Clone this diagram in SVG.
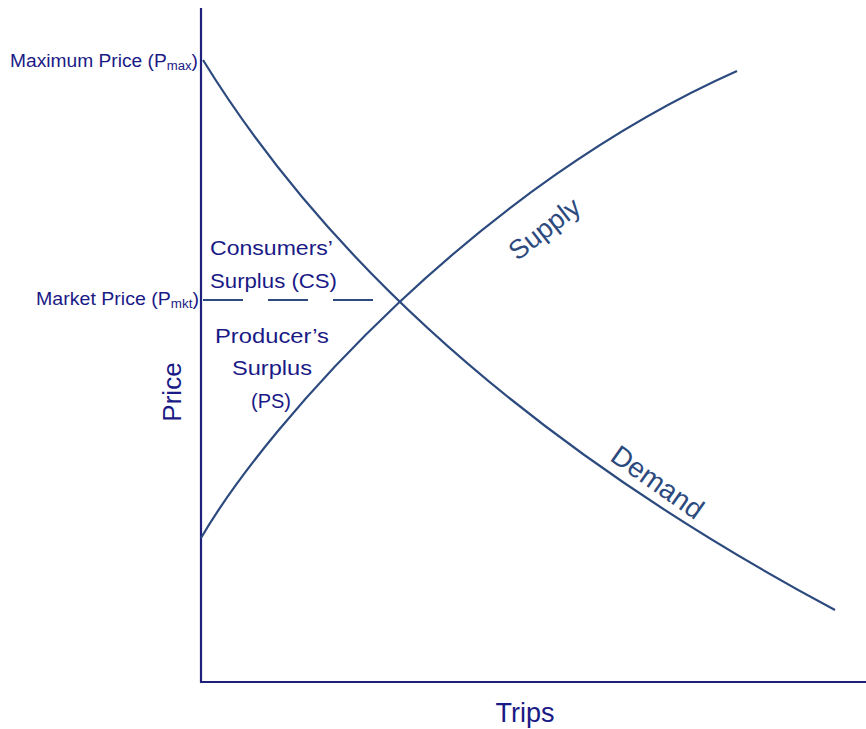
<svg xmlns="http://www.w3.org/2000/svg" width="866" height="729" viewBox="0 0 866 729">
<style>
.t{font-family:"Liberation Sans",Arial,sans-serif;fill:#1a1a86}
.c{font-family:"Liberation Sans",Arial,sans-serif;fill:#2c4a7e}
.curve{fill:none;stroke:#2c4a7e;stroke-width:2.2}
.axis{fill:none;stroke:#1f1f7c;stroke-width:2.2}
</style>
<rect width="866" height="729" fill="#fff"/>
<g id="connectors">
<path class="axis" d="M201 8 V682 H866"/>
<path id="demand" class="curve" d="M203 60 Q398.5 376.7 835 610"/>
<path id="supply" class="curve" d="M201 538 C270 420 480 185 737 71"/>
<path id="market-line" class="curve" d="M203 300 H373" stroke-dasharray="40 25"/>
</g>
<g id="label-max"><text class="t" x="10" y="67" font-size="17.5" textLength="188" lengthAdjust="spacingAndGlyphs">Maximum Price (P<tspan font-size="12" dy="3">max</tspan><tspan dy="-3">)</tspan></text></g>
<g id="label-mkt"><text class="t" x="36" y="305" font-size="17.5" textLength="163" lengthAdjust="spacingAndGlyphs">Market Price (P<tspan font-size="12" dy="3">mkt</tspan><tspan dy="-3">)</tspan></text></g>
<g id="cs"><text class="t" font-size="21"><tspan x="210" y="255" textLength="123" lengthAdjust="spacingAndGlyphs">Consumers’</tspan><tspan x="210" y="288" textLength="127" lengthAdjust="spacingAndGlyphs">Surplus (CS)</tspan></text></g>
<g id="ps"><text class="t" font-size="21"><tspan x="215" y="343" textLength="114" lengthAdjust="spacingAndGlyphs">Producer’s</tspan><tspan x="232" y="375" textLength="80" lengthAdjust="spacingAndGlyphs">Surplus</tspan><tspan x="251" y="408" textLength="40" lengthAdjust="spacingAndGlyphs">(PS)</tspan></text></g>
<g id="price"><text class="t" font-size="26" text-anchor="middle" transform="translate(181 392) rotate(-90)">Price</text></g>
<g id="trips"><text class="t" font-size="27" text-anchor="middle" x="525" y="722">Trips</text></g>
<g id="supply-label"><text class="c" font-size="27" text-anchor="middle" transform="translate(550 236) rotate(-38)">Supply</text></g>
<g id="demand-label"><text class="c" font-size="28" text-anchor="middle" transform="translate(652 490) rotate(35)">Demand</text></g>
</svg>
